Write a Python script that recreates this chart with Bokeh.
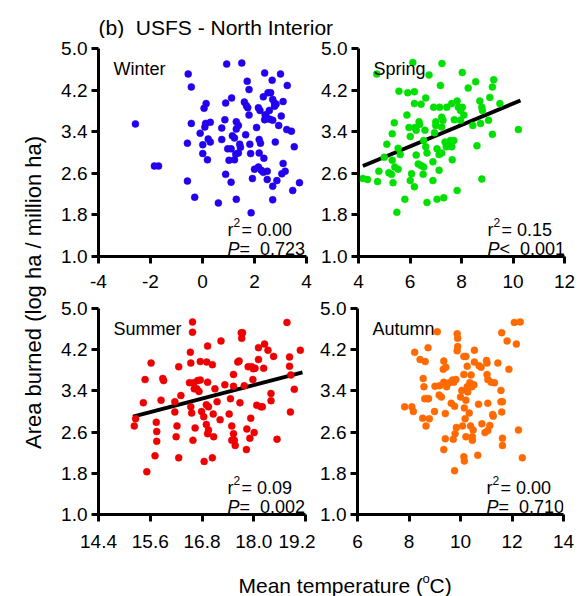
import math
from bokeh.plotting import figure
from bokeh.layouts import column, row
from bokeh.models import Range1d, Label, FixedTicker, NumeralTickFormatter
from bokeh.embed import file_html
from bokeh.resources import INLINE

FONT = "Liberation Sans"

# ---------------- data ----------------
winter_pts = [(-2.58,3.55),(-1.85,2.74),(-1.69,2.74),(-0.55,4.51),(-0.43,4.26),(-0.43,3.56),(-0.09,3.37),
 (-0.58,3.18),(0.01,3.15),(0.01,2.98),(0.19,2.86),(-0.58,2.45),(-0.30,2.14),(0.06,3.85),(0.14,3.94),
 (0.12,3.56),(0.09,3.49),(0.30,3.58),(0.22,3.26),(0.30,3.20),(0.61,2.03),(0.93,4.70),(1.51,4.72),
 (1.12,4.05),(0.89,3.95),(0.86,3.63),(0.74,3.47),(1.30,3.59),(1.38,3.52),(1.15,3.32),(1.23,3.28),
 (1.30,3.45),(0.74,3.25),(0.97,3.07),(1.10,3.07),(1.02,2.85),(1.23,2.86),(0.89,2.58),(1.10,2.43),
 (1.28,2.97),(1.38,2.99),(1.46,3.10),(1.43,3.16),(1.30,2.10),(1.66,3.34),(1.72,4.37),(1.79,4.21),
 (1.61,3.97),(1.69,3.90),(1.74,3.86),(1.79,3.72),(1.82,3.16),(1.85,2.98),(1.92,2.50),(1.87,1.84),
 (2.08,3.48),(2.00,2.68),(2.15,2.72),(2.23,3.18),(2.18,3.25),(2.18,2.99),(2.26,2.66),(2.34,2.62),
 (2.36,2.89),(2.15,3.86),(2.21,3.81),(2.39,4.53),(2.34,4.07),(2.44,3.72),(2.52,4.15),(2.57,3.81),
 (2.59,3.64),(2.39,3.63),(2.41,3.72),(2.49,2.64),(2.49,2.48),(2.70,4.02),(2.68,4.39),(2.62,4.15),
 (2.70,3.62),(2.70,2.35),(2.70,2.09),(2.77,3.95),(2.77,3.89),(2.83,3.93),(2.80,3.20),(2.86,2.46),
 (2.93,3.52),(3.00,4.51),(3.03,3.70),(3.05,2.59),(3.10,2.79),(3.18,2.64),(3.26,4.29),(3.10,3.98),
 (3.24,3.44),(3.42,3.41),(3.47,2.27),(3.53,3.11),(3.73,2.42)]

spring_pts = [(4.71,4.51),(6.11,4.73),(6.74,4.49),(7.24,4.71),(8.03,4.54),(8.55,4.36),(9.25,4.40),
 (9.20,4.26),(8.26,4.24),(7.18,4.29),(5.57,4.18),(5.91,4.15),(6.17,4.17),(6.61,4.05),(6.17,3.94),
 (6.43,3.93),(5.88,3.72),(5.39,3.57),(5.31,3.36),(5.10,3.16),(5.54,3.08),(5.62,2.96),(5.31,2.85),
 (5.00,2.91),(4.79,2.64),(5.18,2.61),(5.28,2.58),(5.41,2.72),(5.54,2.68),(5.34,2.42),(4.74,2.44),
 (4.17,2.50),(4.35,2.48),(5.80,2.10),(5.49,1.85),(5.96,3.48),(6.01,3.31),(6.19,3.48),(6.24,3.43),
 (6.35,3.59),(6.37,3.54),(6.53,3.23),(6.58,3.43),(6.61,3.11),(6.24,2.95),(6.32,2.78),(6.43,2.75),
 (6.53,2.72),(6.66,2.99),(6.06,2.59),(6.01,2.46),(6.17,2.34),(6.51,2.58),(6.89,2.82),(6.89,2.46),
 (6.66,2.04),(7.05,2.10),(7.31,2.13),(7.83,2.27),(8.79,2.49),(6.92,3.87),(7.15,3.87),(7.00,3.59),
 (7.00,3.52),(7.23,3.68),(7.28,3.62),(7.23,3.49),(7.43,3.87),(7.05,3.07),(7.13,2.96),(7.23,2.99),
 (7.13,2.66),(7.36,3.20),(7.41,3.11),(7.49,3.17),(7.57,3.23),(7.62,3.11),(7.70,3.23),(7.64,2.86),
 (7.62,3.94),(7.83,3.99),(7.88,3.87),(7.96,3.81),(7.96,3.62),(8.09,3.72),(8.03,3.87),(8.44,3.52),
 (8.60,3.13),(8.71,3.99),(8.79,3.87),(8.81,3.81),(8.74,3.56),(9.10,4.06),(9.05,3.62),(9.20,3.35),
 (9.49,3.94),(10.21,3.44),(6.95,3.38),(7.72,3.63)]

summer_pts = [(15.23,2.72),(15.26,2.86),(15.44,3.17),(15.48,3.62),(15.62,3.94),(15.52,1.83),(15.74,2.79),
 (15.75,2.61),(15.75,2.42),(15.71,2.14),(15.85,3.22),(15.89,3.64),(15.91,3.60),(16.17,3.19),(16.17,2.99),
 (16.22,2.72),(16.20,2.51),(16.26,2.10),(16.26,3.87),(16.31,3.31),(16.53,4.15),(16.58,4.74),(16.58,4.54),
 (16.54,3.94),(16.51,3.56),(16.54,3.09),(16.56,2.97),(16.59,2.44),(16.61,3.56),(16.62,3.44),(16.64,2.68),
 (16.68,3.44),(16.70,3.60),(16.73,3.39),(16.76,3.61),(16.76,3.97),(16.79,3.00),(16.84,2.90),(16.85,2.03),
 (16.90,2.75),(16.90,3.13),(16.91,3.96),(16.93,4.27),(16.93,3.57),(16.95,3.09),(16.95,2.64),(16.93,2.57),
 (17.04,3.91),(17.06,2.95),(17.04,2.10),(17.07,2.51),(17.10,3.44),(17.15,3.19),(17.24,4.37),(17.22,2.84),
 (17.33,3.52),(17.43,2.95),(17.46,3.25),(17.49,2.72),(17.53,3.49),(17.53,2.57),(17.55,2.44),(17.53,3.72),
 (17.49,2.44),(17.57,2.34),(17.63,3.96),(17.66,3.98),(17.68,3.17),(17.71,4.53),(17.74,4.53),(17.72,4.42),
 (17.78,3.50),(17.83,2.26),(17.84,2.66),(17.87,3.87),(17.91,2.48),(17.93,2.87),(17.95,3.87),(17.98,3.62),
 (17.99,3.83),(18.01,2.59),(18.03,3.84),(18.07,3.12),(18.11,4.01),(18.11,4.24),(18.17,3.09),(18.20,3.09),
 (18.25,4.31),(18.23,3.84),(18.33,4.19),(18.40,3.35),(18.40,3.21),(18.46,4.07),(18.54,2.46),(18.77,4.73),
 (18.83,4.06),(18.83,3.88),(18.85,2.99),(18.94,3.43),(19.08,4.19),(18.86,3.71)]

autumn_pts = [(7.83,3.09),(8.11,3.09),(8.17,3.00),(8.22,4.15),(8.43,4.01),(8.63,3.97),(8.74,4.24),
 (8.55,3.64),(8.58,3.48),(8.61,3.25),(8.71,3.25),(8.76,3.25),(8.53,2.87),(8.79,2.86),(8.66,2.72),
 (8.99,3.00),(9.01,3.49),(9.10,4.55),(9.17,3.32),(9.19,3.50),(9.26,3.28),(9.35,3.98),(9.33,3.82),
 (9.43,3.86),(9.35,3.57),(9.46,3.48),(9.41,2.96),(9.41,2.47),(9.35,2.26),(9.56,3.56),(9.64,3.16),
 (9.69,3.61),(9.74,3.57),(9.82,3.62),(9.77,3.10),(9.72,2.46),(9.77,1.85),(9.79,2.57),(9.84,2.69),
 (9.87,4.51),(9.89,4.42),(9.89,4.26),(9.87,4.18),(10.00,3.28),(10.05,3.41),(10.13,3.72),(10.13,4.07),
 (10.21,4.07),(10.08,2.72),(10.15,3.07),(10.18,2.86),(10.21,3.22),(10.13,2.12),(10.15,2.04),(10.21,2.51),
 (10.26,3.88),(10.26,3.48),(10.28,3.38),(10.34,2.97),(10.36,3.56),(10.39,2.72),(10.41,3.71),(10.44,3.48),
 (10.46,2.51),(10.49,2.64),(10.54,4.19),(10.54,3.96),(10.46,2.44),(10.52,3.52),(10.67,2.15),(10.70,3.14),
 (10.72,3.89),(10.80,3.86),(10.83,2.76),(11.01,3.99),(11.03,3.94),(11.06,3.16),(11.03,3.72),(11.06,3.62),
 (11.06,2.63),(10.95,2.59),(11.14,2.73),(11.19,3.57),(11.27,2.91),(11.25,2.94),(11.32,3.56),(11.45,3.94),
 (11.57,3.41),(11.60,4.53),(11.57,3.19),(11.63,3.19),(11.60,2.99),(11.63,2.48),(11.63,2.34),(11.81,4.37),
 (11.88,3.82),(12.09,4.73),(12.32,4.74),(12.17,4.31),(12.25,2.64),(12.40,2.10)]

winter_x = [p[0] for p in winter_pts]; winter_y = [p[1] for p in winter_pts]
spring_x = [p[0] for p in spring_pts]; spring_y = [p[1] for p in spring_pts]
summer_x = [p[0] for p in summer_pts]; summer_y = [p[1] for p in summer_pts]
autumn_x = [p[0] for p in autumn_pts]; autumn_y = [p[1] for p in autumn_pts]

spring_fit_x = [4.17, 10.29]; spring_fit_y = [2.74, 4.00]
summer_fit_x = [15.20, 19.13]; summer_fit_y = [2.90, 3.76]

y_ticks = [1.0, 1.8, 2.6, 3.4, 4.2, 5.0]
winter_ticks = [-4, -2, 0, 2, 4]
spring_ticks = [4, 6, 8, 10, 12]
summer_ticks = [14.4, 15.6, 16.8, 18.0, 19.2]
autumn_ticks = [6, 8, 10, 12, 14]

stats = {
    "Winter": ("0.00", "=", "0.723"),
    "Spring": ("0.15", "<", "0.001"),
    "Summer": ("0.09", "=", "0.002"),
    "Autumn": ("0.00", "=", "0.710"),
}

TICK_FS = "19px"
STAT_FS = "18px"
SEASON_FS = "18px"
NB = "\u00a0"


def blank(w, h):
    f = figure(width=w, height=h, x_range=Range1d(0, w), y_range=Range1d(0, h),
               x_axis_type=None, y_axis_type=None, min_border=0,
               toolbar_location=None, output_backend="svg")
    f.grid.visible = False
    f.outline_line_color = None
    return f


def txt(**kw):
    kw.setdefault("text_font", FONT)
    kw.setdefault("text_color", "black")
    kw.setdefault("text_baseline", "alphabetic")
    kw.setdefault("level", "overlay")
    return Label(**kw)


def panel(w, h, bl, br, bt, bb, xr, xticks, xfmt, color, xs, ys, season,
          fit_x=None, fit_y=None, xstand=11):
    p = figure(width=w, height=h, x_range=Range1d(*xr), y_range=Range1d(1.0, 5.0),
               min_border_left=bl, min_border_right=br, min_border_top=bt,
               min_border_bottom=bb, toolbar_location=None, output_backend="svg")
    p.grid.visible = False
    p.outline_line_color = None
    fw = w - bl - br
    fh = h - bt - bb
    for ax in (p.xaxis[0], p.yaxis[0]):
        ax.axis_line_width = 3
        ax.axis_line_color = "black"
        ax.major_tick_line_width = 3
        ax.major_tick_line_color = "black"
        ax.major_tick_out = 7
        ax.major_tick_in = 0
        ax.minor_tick_line_color = None
        ax.major_label_text_font = FONT
        ax.major_label_text_font_size = TICK_FS
        ax.major_label_text_color = "black"
    p.xaxis.ticker = FixedTicker(ticks=xticks)
    p.yaxis.ticker = FixedTicker(ticks=y_ticks)
    p.xaxis.formatter = NumeralTickFormatter(format=xfmt)
    p.yaxis.formatter = NumeralTickFormatter(format="0.0")
    p.xaxis.major_label_standoff = xstand
    p.yaxis.major_label_standoff = 4

    if fit_x is not None:
        p.line(fit_x, fit_y, line_color="black", line_width=4)
    p.scatter(xs, ys, size=7, fill_color=color, line_color=color, line_width=0.5)

    def X(px):
        return xr[0] + px * (xr[1] - xr[0]) / fw

    def Y(px_from_bottom):
        return 1.0 + px_from_bottom * 4.0 / fh

    p.add_layout(txt(x=X(15), y=Y(fh - 20), text=season, text_font_size=SEASON_FS))
    r2, op, pv = stats[season]
    p.add_layout(txt(x=X(129), y=Y(27), text="r", text_font_size=STAT_FS))
    p.add_layout(txt(x=X(135), y=Y(34), text="2", text_font_size="12px"))
    p.add_layout(txt(x=X(143), y=Y(27), text="=" + NB + r2, text_font_size=STAT_FS))
    p.add_layout(txt(x=X(129), y=Y(8), text="P", text_font_style="italic",
                     text_font_size=STAT_FS))
    p.add_layout(txt(x=X(141), y=Y(8), text=op + NB + NB + pv, text_font_size=STAT_FS))
    return p


p1 = panel(265, 258, 48, 9, 10, 40, (-4, 4), winter_ticks, "0", "#2200ee",
           winter_x, winter_y, "Winter")
p2 = panel(271, 258, 43, 22, 10, 40, (4, 12), spring_ticks, "0", "#00e000",
           spring_x, spring_y, "Spring", spring_fit_x, spring_fit_y)
p3 = panel(265, 264, 48, 10, 12, 46, (14.4, 19.2), summer_ticks, "0.0", "#ee0000",
           summer_x, summer_y, "Summer", summer_fit_x, summer_fit_y, xstand=13)
p4 = panel(271, 264, 42, 23, 12, 46, (6, 14), autumn_ticks, "0", "#ff6a00",
           autumn_x, autumn_y, "Autumn", xstand=13)

title_fig = blank(586, 38)
title_fig.add_layout(txt(x=98, y=11, text="(b)" + NB + NB + "USFS - North Interior",
                         text_font_size="21px"))

ylab_fig = blank(50, 522)
ylab_fig.add_layout(txt(x=33, y=268, text="Area burned (log ha / million ha)",
                        text_font_size="22px", angle=math.pi / 2,
                        text_align="center", text_baseline="middle"))

xlab_fig = blank(586, 36)
xlab_fig.add_layout(txt(x=238, y=11, text="Mean temperature (", text_font_size="21px"))
xlab_fig.add_layout(txt(x=422, y=18, text="o", text_font_size="13px"))
xlab_fig.add_layout(txt(x=429, y=11, text="C)", text_font_size="21px"))

layout = column(
    title_fig,
    row(ylab_fig, column(row(p1, p2), row(p3, p4))),
    xlab_fig,
)

with open("out.html", "w") as f:
    f.write(file_html(layout, INLINE))
